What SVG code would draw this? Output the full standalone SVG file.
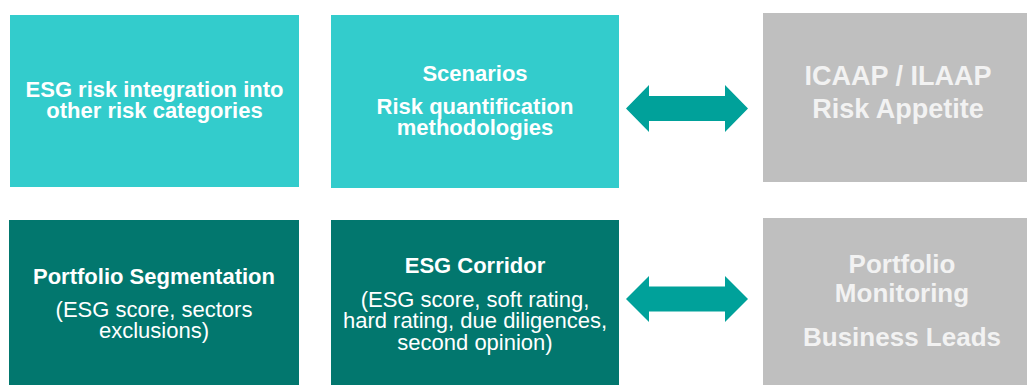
<svg xmlns="http://www.w3.org/2000/svg" width="1027" height="385" viewBox="0 0 1027 385">
<style>
.light{fill:#33CCCC}
.dark{fill:#02776E}
.grey{fill:#BFBFBF}
.arrow{fill:#00A19A}
text{font-family:"Liberation Sans",Arial,sans-serif;text-anchor:middle;fill:#FFFFFF}
.b{font-weight:bold;font-size:22px}
.r{font-size:22px}
.g{font-weight:bold;fill:#F2F2F2}
</style>
<rect width="1027" height="385" fill="#FFFFFF"/>
<g id="node-esg-integration">
<rect class="light" x="10" y="15" width="289" height="172"/>
<text class="b" x="154.5" y="97">ESG risk integration into</text>
<text class="b" x="154.5" y="118">other risk categories</text>
</g>
<g id="node-scenarios">
<rect class="light" x="331" y="15" width="288" height="173"/>
<text class="b" x="475" y="81">Scenarios</text>
<text class="b" x="475" y="114">Risk quantification</text>
<text class="b" x="475" y="135">methodologies</text>
</g>
<g id="node-icaap">
<rect class="grey" x="763" y="13" width="264" height="169"/>
<text class="g" x="898" y="85" font-size="27">ICAAP / ILAAP</text>
<text class="g" x="898" y="118" font-size="27">Risk Appetite</text>
</g>
<g id="node-segmentation">
<rect class="dark" x="9" y="220" width="290" height="165"/>
<text class="b" x="154" y="284">Portfolio Segmentation</text>
<text class="r" x="154" y="317">(ESG score, sectors</text>
<text class="r" x="154" y="338">exclusions)</text>
</g>
<g id="node-corridor">
<rect class="dark" x="331" y="220" width="288" height="165"/>
<text class="b" x="475" y="273">ESG Corridor</text>
<text class="r" x="475" y="307">(ESG score, soft rating,</text>
<text class="r" x="475" y="328">hard rating, due diligences,</text>
<text class="r" x="475" y="350">second opinion)</text>
</g>
<g id="node-monitoring">
<rect class="grey" x="763" y="218" width="264" height="167"/>
<text class="g" x="902" y="273" font-size="26">Portfolio</text>
<text class="g" x="902" y="302" font-size="26">Monitoring</text>
<text class="g" x="902" y="346" font-size="26">Business Leads</text>
</g>
<g id="connectors">
<polygon class="arrow" points="626,108.5 649,85 649,96 725,96 725,85 748,108.5 725,132 725,121 649,121 649,132"/>
<polygon class="arrow" points="626,299 649,276 649,286.5 725,286.5 725,276 748,299 725,322 725,311.5 649,311.5 649,322"/>
</g>
</svg>
